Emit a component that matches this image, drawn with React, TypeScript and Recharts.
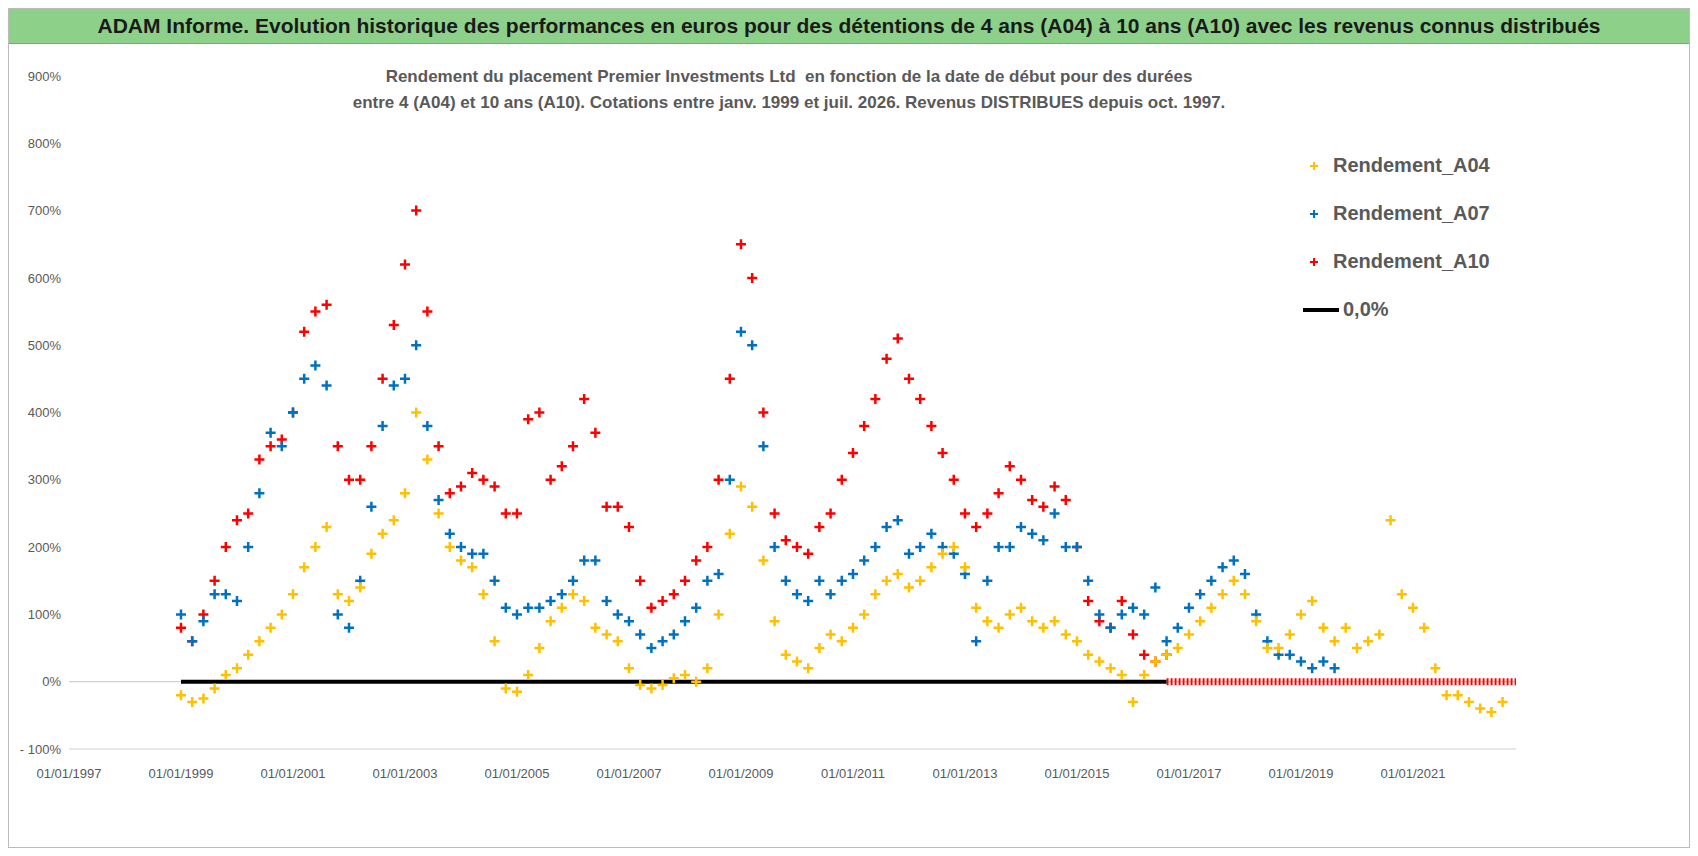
import React from 'react';
import { ScatterChart, Scatter, XAxis, YAxis, ReferenceLine } from 'recharts';

// start dates in fractional years, 0.2-year step
const yearsA04 = [1999.0,1999.2,1999.4,1999.6,1999.8,2000.0,2000.2,2000.4,2000.6,2000.8,2001.0,2001.2,2001.4,2001.6,2001.8,2002.0,2002.2,2002.4,2002.6,2002.8,2003.0,2003.2,2003.4,2003.6,2003.8,2004.0,2004.2,2004.4,2004.6,2004.8,2005.0,2005.2,2005.4,2005.6,2005.8,2006.0,2006.2,2006.4,2006.6,2006.8,2007.0,2007.2,2007.4,2007.6,2007.8,2008.0,2008.2,2008.4,2008.6,2008.8,2009.0,2009.2,2009.4,2009.6,2009.8,2010.0,2010.2,2010.4,2010.6,2010.8,2011.0,2011.2,2011.4,2011.6,2011.8,2012.0,2012.2,2012.4,2012.6,2012.8,2013.0,2013.2,2013.4,2013.6,2013.8,2014.0,2014.2,2014.4,2014.6,2014.8,2015.0,2015.2,2015.4,2015.6,2015.8,2016.0,2016.2,2016.4,2016.6,2016.8,2017.0,2017.2,2017.4,2017.6,2017.8,2018.0,2018.2,2018.4,2018.6,2018.8,2019.0,2019.2,2019.4,2019.6,2019.8,2020.0,2020.2,2020.4,2020.6,2020.8,2021.0,2021.2,2021.4,2021.6,2021.8,2022.0,2022.2,2022.4,2022.6];
const rendA04 = [-20,-30,-25,-10,10,20,40,60,80,100,130,170,200,230,130,120,140,190,220,240,280,400,330,250,200,180,170,130,60,-10,-15,10,50,90,110,130,120,80,70,60,20,-5,-10,-5,5,10,0,20,100,220,290,260,180,90,40,30,20,50,70,60,80,100,130,150,160,140,150,170,190,200,170,110,90,80,100,110,90,80,90,70,60,40,30,20,10,-30,10,30,40,50,70,90,110,130,150,130,90,50,50,70,100,120,80,60,80,50,60,70,240,130,110,80,20,-20,-20,-30,-40,-45,-30];

const rendA07 = [100,60,90,130,130,120,200,280,370,350,400,450,470,440,100,80,150,260,380,440,450,500,380,270,220,200,190,190,150,110,100,110,110,120,130,150,180,180,120,100,90,70,50,60,70,90,110,150,160,300,520,500,350,200,150,130,120,150,130,150,160,180,200,230,240,190,200,220,200,190,160,60,150,200,200,230,220,210,250,200,200,150,100,80,100,110,100,140,60,80,110,130,150,170,180,160,100,60,40,40,30,20,30,20];

const rendA10 = [80,60,100,150,200,240,250,330,350,360,400,520,550,560,350,300,300,350,450,530,620,700,550,350,280,290,310,300,290,250,250,390,400,300,320,350,420,370,260,260,230,150,110,120,130,150,180,200,300,450,650,600,400,250,210,200,190,230,250,300,340,380,420,480,510,450,420,380,340,300,250,230,250,280,320,300,270,260,290,270,200,120,90,80,120,70,40,30,40];

const xTicks = [1997, 1999, 2001, 2003, 2005, 2007, 2009, 2011, 2013, 2015, 2017, 2019, 2021];
const yTicks = [-100, 0, 100, 200, 300, 400, 500, 600, 700, 800, 900];
const zeroBlack = [{ x: 1999.0, y: 0 }, { x: 2016.6, y: 0 }];
const zeroRed = [{ x: 2016.6, y: 0 }, { x: 2022.84, y: 0 }];

const toPoints = (vals: number[]) => vals.map((y, i) => ({ x: yearsA04[i], y }));

const Plus = (color: string) => (props: any) => {
  const { cx, cy } = props;
  if (cx == null || cy == null) return null;
  return (
    <path d={`M${cx - 5},${cy}H${cx + 5}M${cx},${cy - 5}V${cy + 5}`} stroke={color} strokeWidth={2.5} />
  );
};

const FONT = '"Liberation Sans", Arial, sans-serif';

export default function App() {
  return (
    <div style={{ position: 'relative', width: 1682, height: 840, fontFamily: FONT, border: '1px solid #bbb', boxSizing: 'border-box', background: '#fff' }}>
      <div style={{ position: 'absolute', left: 0, top: 0, width: 1680, height: 34, background: '#8dd08a', borderBottom: '1px solid #6fae6c', textAlign: 'center', fontSize: 21, fontWeight: 'bold', lineHeight: '34px', color: '#1a1a1a' }}>
        ADAM Informe. Evolution historique des performances en euros pour des détentions de 4 ans (A04) à 10 ans (A10) avec les revenus connus distribués
      </div>
      <div style={{ position: 'absolute', left: 230, width: 1100, top: 55, textAlign: 'center', fontSize: 17, fontWeight: 'bold', color: '#595959', lineHeight: '26px' }}>
        Rendement du placement Premier Investments Ltd &nbsp;en fonction de la date de début pour des durées<br />
        entre 4 (A04) et 10 ans (A10). Cotations entre janv. 1999 et juil. 2026. Revenus DISTRIBUES depuis oct. 1997.
      </div>
      <div style={{ position: 'absolute', left: 0, top: 0 }}>
        <ScatterChart width={1680} height={838} margin={{ top: 67, right: 173, bottom: 68, left: 0 }}>
          <XAxis type="number" dataKey="x" domain={[1997, 2022.84]} ticks={xTicks} allowDataOverflow
            tickFormatter={(v) => `01/01/${v}`} tick={{ fontSize: 13, fill: '#595959' }}
            axisLine={{ stroke: '#d0d0d0' }} tickLine={false} height={30} tickMargin={14} />
          <YAxis type="number" dataKey="y" domain={[-100, 900]} ticks={yTicks} width={60}
            tickFormatter={(v) => (v < 0 ? `- ${-v}%` : `${v}%`)} tick={{ fontSize: 13, fill: '#595959' }}
            axisLine={false} tickLine={false} />
          <ReferenceLine y={0} stroke="#c8c8c8" />
          <Scatter data={zeroRed} line={{ stroke: '#ff0000', strokeWidth: 7, strokeDasharray: '2 2' }} shape={() => null} isAnimationActive={false} />
          <Scatter data={zeroBlack} line={{ stroke: '#000', strokeWidth: 4 }} shape={() => null} isAnimationActive={false} />
          <Scatter data={toPoints(rendA10)} shape={Plus('#ff0000')} isAnimationActive={false} />
          <Scatter data={toPoints(rendA07)} shape={Plus('#0070c0')} isAnimationActive={false} />
          <Scatter data={toPoints(rendA04)} shape={Plus('#ffc000')} isAnimationActive={false} />
        </ScatterChart>
      </div>
      <div style={{ position: 'absolute', left: 1290, top: 135, width: 225, height: 185, background: '#fff', fontSize: 20, fontWeight: 'bold', color: '#595959' }}>
        {[
          ['#ffc000', 'Rendement_A04'],
          ['#0070c0', 'Rendement_A07'],
          ['#ff0000', 'Rendement_A10'],
        ].map(([c, t], i) => (
          <div key={t} style={{ position: 'absolute', left: 0, top: 10 + i * 48, display: 'flex', alignItems: 'center' }}>
            <svg width={30} height={20}><path d="M11,10H19M15,6V14" stroke={c} strokeWidth={2} /></svg>
            <span style={{ marginLeft: 4 }}>{t}</span>
          </div>
        ))}
        <div style={{ position: 'absolute', left: 0, top: 154, display: 'flex', alignItems: 'center' }}>
          <svg width={42} height={20}><line x1={4} y1={10} x2={40} y2={10} stroke="#000" strokeWidth={4} /></svg>
          <span style={{ marginLeft: 2 }}>0,0%</span>
        </div>
      </div>
    </div>
  );
}
